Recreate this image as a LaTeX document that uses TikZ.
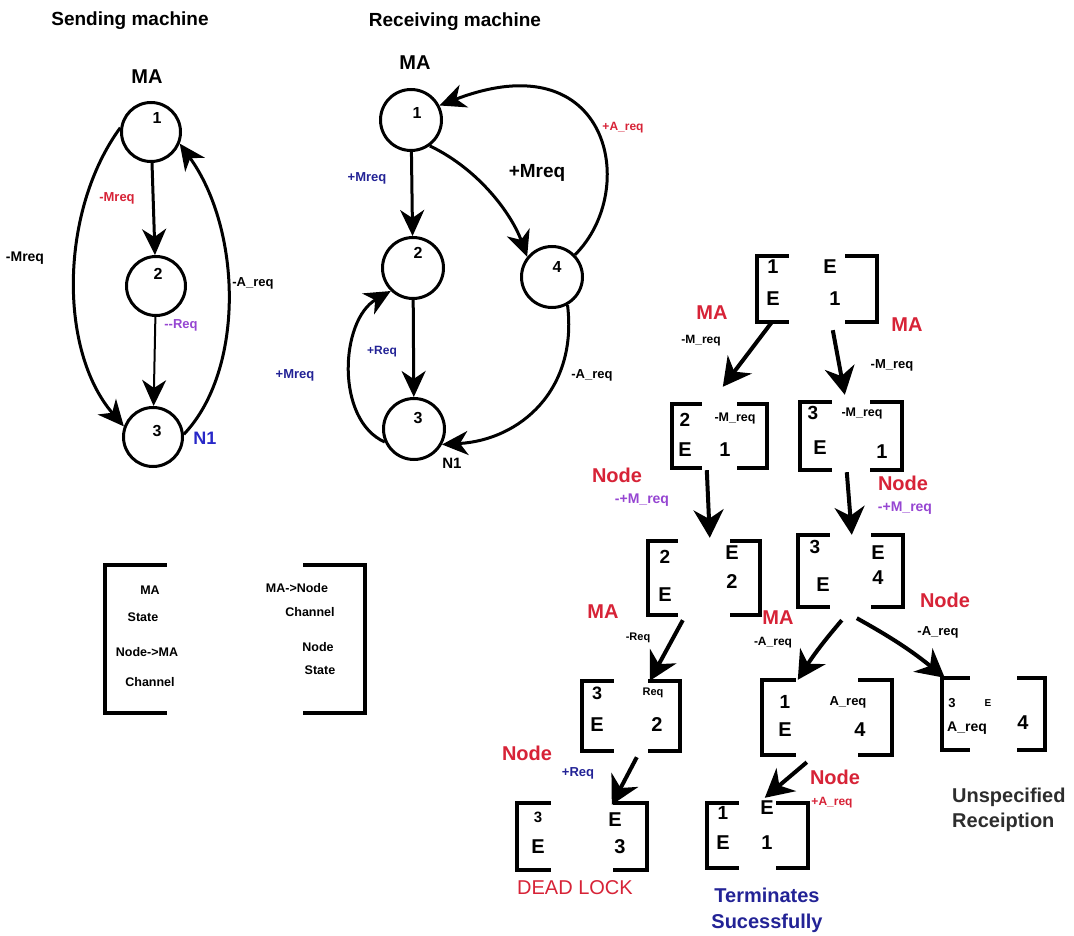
\documentclass[tikz,border=0pt]{standalone}
\usepackage{fontspec}
\setmainfont{Liberation Sans}
\usetikzlibrary{arrows.meta}
\definecolor{redc}{RGB}{215,35,55}
\definecolor{bluec}{RGB}{35,35,150}
\definecolor{nblue}{RGB}{40,40,200}
\definecolor{purc}{RGB}{150,70,210}
\definecolor{grayc}{RGB}{45,45,45}
\newcommand\myfs[1]{\fontsize{#1pt}{#1pt}\selectfont}
\newcommand\brk[2]{%
  \draw[brkline] ([xshift=#2]#1.north west) -| (#1.south west) -- ++(#2,0);
  \draw[brkline] ([xshift=-#2]#1.north east) -| (#1.south east) -- ++(-#2,0);}
\tikzset{
  tx/.style={font=\bfseries\myfs{#1}},
  txr/.style={font=\myfs{#1}},
  rd/.style={text=redc},
  bl/.style={text=bluec},
  pu/.style={text=purc},
  circ/.style={circle, draw, line width=3pt, minimum size=59pt},
  rcirc/.style={circle, draw, line width=3pt, minimum size=61pt},
  arr/.style={line width=3pt, -{Stealth[length=26pt,width=24pt,inset=8pt]}},
  tarr/.style={line width=4pt, -{Stealth[length=28pt,width=30pt,inset=9pt]}},
  brkline/.style={line width=3.5pt},
}
\begin{document}
\begin{tikzpicture}[x=1pt,y=-1pt, every node/.append style={inner sep=0pt}]
\useasboundingbox[fill=white] (0,0) rectangle (1074,936);

% ---------------- Sending machine ----------------
\node[tx=19] (sTitle) at (130,21) {Sending machine};
\node[tx=20] (sMA) at (147,77) {MA};
\node[circ] (S1) at (151,132) {};
\node[circ] (S2) at (156,286) {};
\node[circ] (S3) at (153,437) {};
\node[tx=16] (s1n) at (157,118) {1};
\node[tx=16] (s2n) at (158,274) {2};
\node[tx=16] (s3n) at (157,431) {3};
\draw[arr] (S1) -- (S2);
\draw[arr, line width=2pt] (S2) -- (S3);
\draw[arr] (S1.172) .. controls (60,210) and (58,350) .. (S3.160);
\draw[arr] (S3.5) .. controls (245,370) and (242,230) .. (S1.-22);
\node[tx=13, rd] (sl1) at (117,198) {-Mreq};
\node[tx=14] (sl2) at (25,258) {-Mreq};
\node[tx=13] (sl3) at (253,283) {-A\_req};
\node[tx=13, pu] (sl4) at (181,325) {-{}-Req};
\node[tx=18, text=nblue] (sN1) at (205,438) {N1};

% ---------------- Receiving machine ----------------
\node[tx=19] (rTitle) at (455,22) {Receiving machine};
\node[tx=20] (rMA) at (415,63) {MA};
\node[rcirc] (R1) at (411,120) {};
\node[rcirc] (R2) at (413,268) {};
\node[rcirc] (R4) at (552,277) {};
\node[rcirc] (R3) at (414,429) {};
\node[tx=16] (r1n) at (417,113) {1};
\node[tx=16] (r2n) at (418,253) {2};
\node[tx=16] (r4n) at (557,267) {4};
\node[tx=16] (r3n) at (418,418) {3};
\node[tx=15] (rN1) at (452,463) {N1};
\draw[arr] (R1) -- (R2);
\draw[arr] (R2) -- (R3);
\draw[arr] (R1.-54) .. controls (480,170) and (512,215) .. (R4.141);
\draw[arr] (R4.44) .. controls (640,190) and (610,40) .. (R1.27);
\draw[arr] (R3.204) .. controls (335,420) and (340,320) .. (R2.226);
\draw[arr] (R4.-61) .. controls (578,390) and (520,440) .. (R3.-29);
\node[tx=13, bl] (rl1) at (367,178) {+Mreq};
\node[tx=19] (rl2) at (537,173) {+Mreq};
\node[tx=12, rd] (rl3) at (623,128) {+A\_req};
\node[tx=12, bl] (rl4) at (382,352) {+Req};
\node[tx=13, bl] (rl5) at (295,375) {+Mreq};
\node[tx=13] (rl6) at (592,375) {-A\_req};

% ---------------- Legend ----------------
\node[minimum width=260pt, minimum height=148pt] (L) at (235,639) {};
\brk{L}{62pt}
\node[tx=12.5] (lg1) at (150,590) {MA};
\node[tx=12.5] (lg2) at (143,617) {State};
\node[tx=12.5] (lg3) at (147,652) {Node->MA};
\node[tx=12.5] (lg4) at (150,682) {Channel};
\node[tx=12.5] (lg5) at (297,588) {MA->Node};
\node[tx=12.5] (lg6) at (310,612) {Channel};
\node[tx=12.5] (lg7) at (318,647) {Node};
\node[tx=12.5] (lg8) at (320,670) {State};

% ---------------- Tree ----------------
\node[minimum width=120pt, minimum height=66pt] (T) at (817,289) {};
\node[minimum width=95pt, minimum height=64pt] (B2) at (719.5,436) {};
\node[minimum width=102pt, minimum height=68pt] (B3) at (851,436) {};
\node[minimum width=112pt, minimum height=74pt] (B4) at (704,578) {};
\node[minimum width=105pt, minimum height=72pt] (B5) at (850.5,571) {};
\node[minimum width=98pt, minimum height=70pt] (B6) at (631,716) {};
\node[minimum width=130pt, minimum height=75pt] (B7) at (827,717.5) {};
\node[minimum width=103pt, minimum height=72pt] (B8) at (993.5,714) {};
\node[minimum width=130pt, minimum height=67pt] (B9) at (582,836.5) {};
\node[minimum width=101pt, minimum height=65pt] (B10) at (757.5,835.5) {};
\brk{T}{32pt}
\brk{B2}{30pt}
\brk{B3}{32pt}
\brk{B4}{30pt}
\brk{B5}{32pt}
\brk{B6}{32pt}
\brk{B7}{34pt}
\brk{B8}{28pt}
\brk{B9}{34pt}
\brk{B10}{32pt}

% box contents
\node[tx=20] (tA) at (773,267) {1};
\node[tx=20] (tB) at (773,299) {E};
\node[tx=20] (tC) at (830,267) {E};
\node[tx=20] (tD) at (835,299) {1};

\node[tx=19] (b2A) at (685,420) {2};
\node[tx=12.5] (b2B) at (735,418) {-M\_req};
\node[tx=20] (b2C) at (685,450) {E};
\node[tx=20] (b2D) at (725,450) {1};

\node[tx=19] (b3A) at (813,413) {3};
\node[tx=12.5] (b3B) at (862,413) {-M\_req};
\node[tx=20] (b3C) at (820,448) {E};
\node[tx=20] (b3D) at (882,452) {1};

\node[tx=19] (b4A) at (665,557) {2};
\node[tx=20] (b4B) at (665,595) {E};
\node[tx=20] (b4C) at (732,553) {E};
\node[tx=20] (b4D) at (732,582) {2};

\node[tx=19] (b5A) at (815,547) {3};
\node[tx=20] (b5B) at (823,585) {E};
\node[tx=20] (b5C) at (878,553) {E};
\node[tx=20] (b5D) at (878,578) {4};

\node[tx=18] (b6A) at (597,693) {3};
\node[tx=11] (b6B) at (653,693) {Req};
\node[tx=20] (b6C) at (597,725) {E};
\node[tx=20] (b6D) at (657,725) {2};

\node[tx=19] (b7A) at (785,702) {1};
\node[tx=13] (b7B) at (848,702) {A\_req};
\node[tx=20] (b7C) at (785,730) {E};
\node[tx=20] (b7D) at (860,730) {4};

\node[tx=13] (b8A) at (952,703) {3};
\node[tx=10] (b8B) at (988,703) {E};
\node[tx=14] (b8C) at (967,728) {A\_req};
\node[tx=20] (b8D) at (1023,723) {4};

\node[tx=15] (b9A) at (538,817) {3};
\node[tx=20] (b9B) at (538,847) {E};
\node[tx=20] (b9C) at (615,820) {E};
\node[tx=20] (b9D) at (620,847) {3};

\node[tx=19] (b10A) at (723,813) {1};
\node[tx=20] (b10B) at (767,808) {E};
\node[tx=20] (b10C) at (723,843) {E};
\node[tx=20] (b10D) at (767,843) {1};

% connectors
\draw[tarr] ([xshift=15pt]T.south west) -- ([xshift=51pt,yshift=17pt]B2.north west);
\draw[tarr] ([xshift=76pt,yshift=-8pt]T.south west) -- ([xshift=45pt,yshift=7pt]B3.north west);
\draw[tarr] ([xshift=35pt,yshift=-2pt]B2.south west) -- ([xshift=62pt,yshift=3pt]B4.north west);
\draw[tarr] ([xshift=47pt,yshift=-2pt]B3.south west) -- ([xshift=54pt]B5.north west);
\draw[tarr] ([xshift=35pt,yshift=-5pt]B4.south west) -- ([xshift=68pt]B6.north west);
\draw[tarr] ([xshift=44pt,yshift=-13pt]B5.south west) to[bend right=4] ([xshift=36pt]B7.north west);
\draw[tarr] ([xshift=59pt,yshift=-11pt]B5.south west) to[bend left=5] ([xshift=3pt]B8.north west);
\draw[tarr] ([xshift=55pt,yshift=-6pt]B6.south west) -- ([xshift=95pt,yshift=-2pt]B9.north west);
\draw[tarr] ([xshift=45pt,yshift=-7pt]B7.south west) -- ([xshift=58pt,yshift=5pt]B10.north west);

% tree labels
\node[tx=20, rd] (m1) at (712,313) {MA};
\node[tx=12] (m1l) at (701,341) {-M\_req};
\node[tx=20, rd] (m2) at (907,325) {MA};
\node[tx=13] (m2l) at (892,365) {-M\_req};
\node[tx=20, rd] (n1) at (617,475) {Node};
\node[tx=14, pu] (n1l) at (642,500) {-+M\_req};
\node[tx=20, rd] (n2) at (903,483) {Node};
\node[tx=14, pu] (n2l) at (905,508) {-+M\_req};
\node[tx=20, rd] (m3) at (603,612) {MA};
\node[tx=11] (m3l) at (638,638) {-Req};
\node[tx=20, rd] (m4) at (778,618) {MA};
\node[tx=12] (m4l) at (773,643) {-A\_req};
\node[tx=20, rd] (n3) at (945,600) {Node};
\node[tx=13] (n3l) at (938,632) {-A\_req};
\node[tx=20, rd] (n4) at (527,753) {Node};
\node[tx=13, bl] (n4l) at (578,773) {+Req};
\node[tx=20, rd] (n5) at (835,777) {Node};
\node[tx=12, rd] (n5l) at (832,803) {+A\_req};

\node[txr=20, rd] (dl) at (575,888) {DEAD LOCK};
\node[tx=20, text=bluec] (ts1) at (767,895) {Terminates};
\node[tx=20, text=bluec] (ts2) at (767,923) {Sucessfully};
\node[tx=20, text=grayc, anchor=west] (us1) at (952,797) {Unspecified};
\node[tx=20, text=grayc, anchor=west] (us2) at (952,822) {Receiption};
\end{tikzpicture}
\end{document}
